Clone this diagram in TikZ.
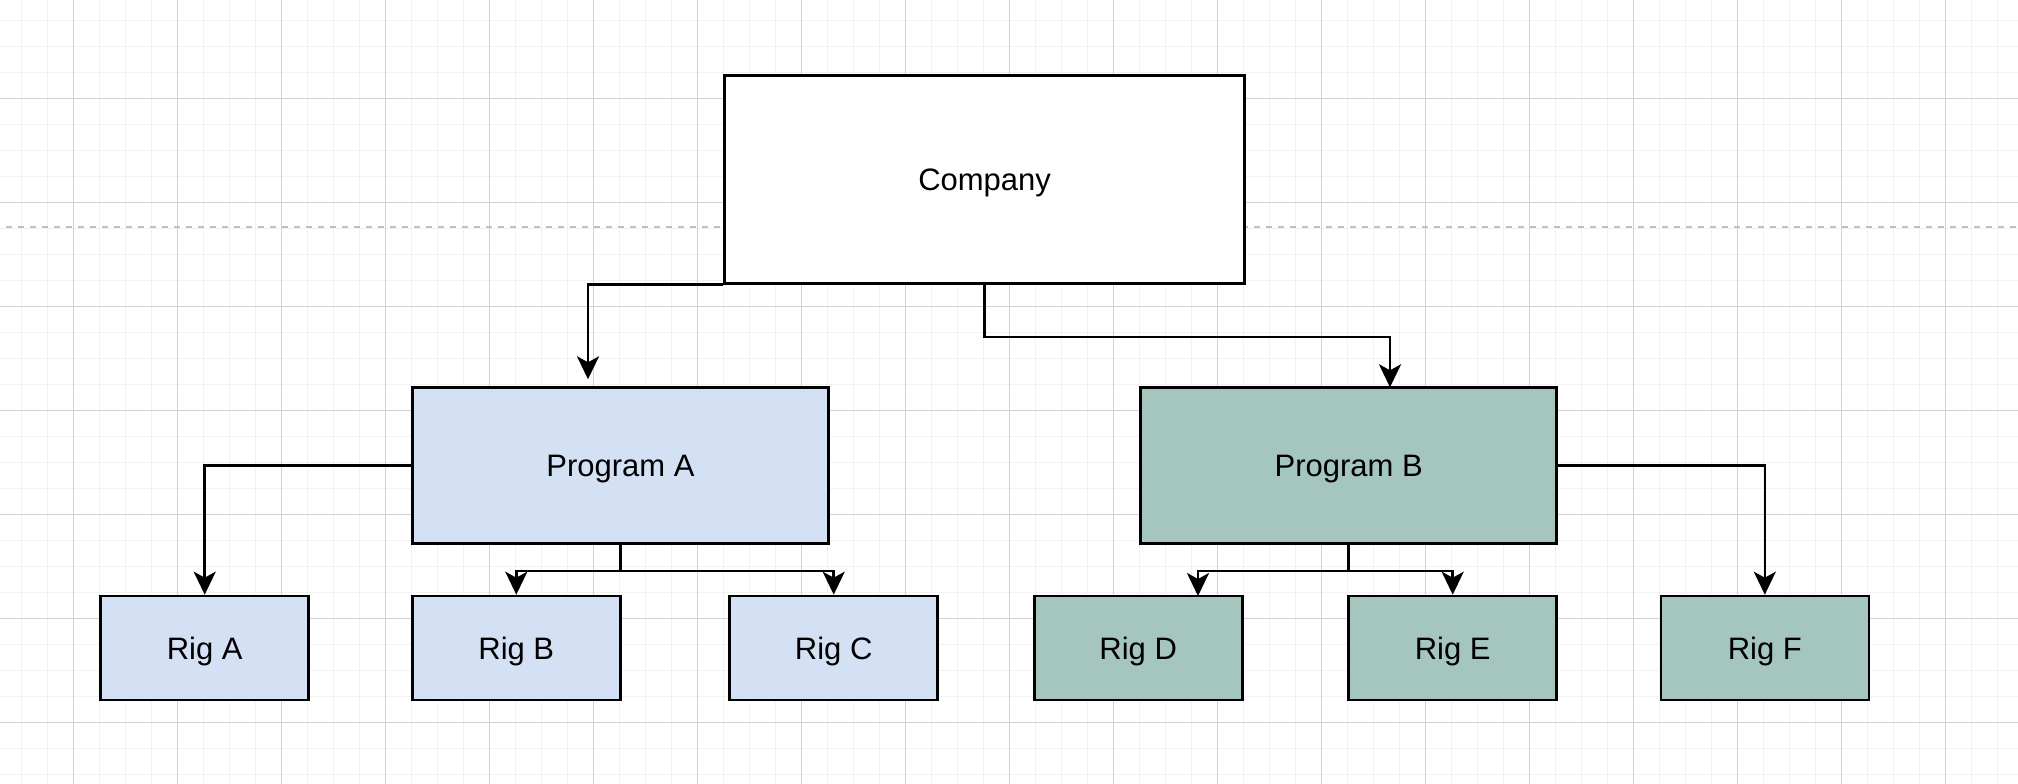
\documentclass[tikz,border=0pt]{standalone}
\usepackage{fontspec}
\setmainfont{Liberation Sans}
\usetikzlibrary{arrows.meta}
\definecolor{minorgrid}{HTML}{F2F2F2}
\definecolor{majorgrid}{HTML}{D2D2D2}
\definecolor{dashgray}{HTML}{C0C0C0}
\definecolor{blueA}{HTML}{D4E1F5}
\definecolor{greenB}{HTML}{A4C6BF}
\tikzset{
  box/.style={draw=black, line width=2.6pt, inner sep=0pt, font=\fontsize{31}{37}\selectfont, text=black, text height=22.2pt, text depth=0pt},
  bigbox/.style={box, fill=white, minimum width=520pt, minimum height=207.6pt},
  progbox/.style={box, minimum width=416pt, minimum height=156pt},
  rigbox/.style={box, minimum width=208pt, minimum height=104pt},
  conn/.style={draw=black, line width=2.6pt, -{Stealth[length=23pt,width=22pt,inset=6pt]}},
}
\begin{document}
\begin{tikzpicture}[x=1pt,y=-1pt]
\useasboundingbox (0,0) rectangle (2018,784);
\fill[white] (0,0) rectangle (2018,784);
% grid
\foreach \i in {0,...,77} \draw[minorgrid, line width=1.4pt] (21.3+26*\i,0) -- ++(0,784);
\foreach \i in {0,...,29} \draw[minorgrid, line width=1.4pt] (0,20.3+26*\i) -- ++(2018,0);
\foreach \i in {0,...,18} \draw[majorgrid, line width=1.1pt] (73.3+104*\i,0) -- ++(0,784);
\foreach \i in {0,...,6} \draw[majorgrid, line width=1.1pt] (0,98.3+104*\i) -- ++(2018,0);
% dashed guide
\draw[dashgray, line width=1.6pt, dash pattern=on 6pt off 6pt] (6,226.7) -- (2018,226.7);

% nodes
\node[bigbox] (company) at (984.6,179.5) {Company};
\node[progbox, fill=blueA] (progA) at (620.5,465.7) {Program A};
\node[progbox, fill=greenB] (progB) at (1348.7,465.7) {Program B};
\node[rigbox, fill=blueA] (rigA) at (204.7,648) {Rig A};
\node[rigbox, fill=blueA] (rigB) at (516.3,648) {Rig B};
\node[rigbox, fill=blueA] (rigC) at (833.7,648) {Rig C};
\node[rigbox, fill=greenB] (rigD) at (1138.2,648) {Rig D};
\node[rigbox, fill=greenB] (rigE) at (1452.7,648) {Rig E};
\node[rigbox, fill=greenB] (rigF) at (1764.8,648) {Rig F};

% connector end points
\coordinate (atipA) at (588,379.3);
\coordinate (atipB) at (1390,387.3);
\coordinate (atipD) at (1198,596);

% connectors
\draw[conn] (company.south west) -| (atipA);
\draw[conn] (company.south) -- ++(0,52.2) -| (atipB);
\draw[conn] (progA.west) -| (rigA.north);
\draw[conn] (progA.south) -- ++(0,26) -| (rigB.north);
\draw[conn] (progA.south) -- ++(0,26) -| (rigC.north);
\draw[conn] (progB.south) -- ++(0,26) -| (atipD);
\draw[conn] (progB.south) -- ++(0,26) -| (rigE.north);
\draw[conn] (progB.east) -| (rigF.north);
\end{tikzpicture}
\end{document}
